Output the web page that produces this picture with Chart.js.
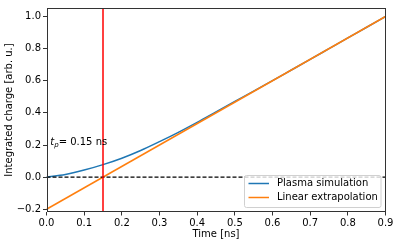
<!DOCTYPE html>
<html>
<head>
<meta charset="utf-8">
<script src="https://cdn.jsdelivr.net/npm/chart.js@4.4.1/dist/chart.umd.min.js"></script>
<style>
  html, body { margin: 0; padding: 0; background: #fff; }
  canvas { display: block; }
</style>
</head>
<body>
<canvas id="chart" width="399" height="245"></canvas>
<script>
// Plasma simulation curve
const timeNs = [0, 0.05, 0.1, 0.15, 0.2, 0.25, 0.3, 0.35, 0.4, 0.45, 0.5, 0.55, 0.6, 0.65, 0.7, 0.75, 0.8, 0.85, 0.9];
const plasmaCharge = [0, 0.016, 0.044, 0.078, 0.118, 0.166, 0.221, 0.279, 0.341, 0.406, 0.471, 0.536, 0.601, 0.667, 0.733, 0.8, 0.867, 0.933, 1.0];

// Linear extrapolation
const extrapTime = [0, 0.9];
const extrapCharge = [-0.2, 1.0];

const tp = 0.15;
const xLimits = [0, 0.9];
const yLimits = [-0.217, 1.053];
const xTicks = [0, 0.1, 0.2, 0.3, 0.4, 0.5, 0.6, 0.7, 0.8, 0.9];
const yTicks = [-0.2, 0, 0.2, 0.4, 0.6, 0.8, 1.0];

const seriesNames = ["Plasma simulation", "Linear extrapolation"];
const blue = "#1f77b4";
const orange = "#ff7f0e";
const FONT = "'DejaVu Sans', sans-serif";
const FS = 10;

Chart.defaults.font.family = FONT;
Chart.defaults.font.size = FS;
Chart.defaults.color = "#000";

const toPoints = (xs, ys) => xs.map((x, i) => ({ x: x, y: ys[i] }));

// frame, annotation and legend drawn on top
const extras = {
    id: "extras",
    afterDraw(chart) {
        const ctx = chart.ctx;
        const a = chart.chartArea;
        const xs = chart.scales.x, ys = chart.scales.y;
        ctx.save();

        // spines
        ctx.strokeStyle = "#333";
        ctx.lineWidth = 1;
        ctx.strokeRect(Math.round(a.left) + 0.5, Math.round(a.top) + 0.5,
            Math.round(a.right - a.left) - 1, Math.round(a.bottom - a.top) - 1);

        // t_p annotation
        let tx = xs.getPixelForValue(0.01);
        const ty = ys.getPixelForValue(0.2);
        ctx.fillStyle = "#000";
        ctx.textBaseline = "alphabetic";
        ctx.textAlign = "left";
        ctx.font = "oblique " + FS + "px " + FONT;
        ctx.fillText("t", tx, ty);
        tx += ctx.measureText("t").width;
        ctx.font = "oblique 7px " + FONT;
        ctx.fillText("p", tx, ty + 2);
        tx += ctx.measureText("p").width;
        ctx.font = FS + "px " + FONT;
        ctx.fillText("= " + tp.toFixed(2) + " ns", tx, ty);

        // legend, lower right
        const w = 136.5, h = 32;
        const lx = a.right - 4.5 - w, ly = a.bottom - 4.5 - h;
        ctx.beginPath();
        ctx.roundRect(lx, ly, w, h, 2);
        ctx.fillStyle = "rgba(255,255,255,0.8)";
        ctx.fill();
        ctx.strokeStyle = "#d0d0d0";
        ctx.lineWidth = 1;
        ctx.stroke();
        const cols = [blue, orange];
        ctx.font = FS + "px " + FONT;
        ctx.textBaseline = "middle";
        seriesNames.forEach((name, i) => {
            const yy = ly + 8 + i * 14;
            ctx.strokeStyle = cols[i];
            ctx.lineWidth = 1.5;
            ctx.beginPath();
            ctx.moveTo(lx + 4, yy);
            ctx.lineTo(lx + 24.5, yy);
            ctx.stroke();
            ctx.fillStyle = "#000";
            ctx.fillText(name, lx + 32.5, yy);
        });
        ctx.restore();
    }
};

new Chart(document.getElementById("chart"), {
    type: "line",
    data: {
        datasets: [
            {
                label: "tp",
                data: toPoints([tp, tp], yLimits),
                borderColor: "#ff0000",
                borderWidth: 1.5,
                pointRadius: 0,
                order: 0
            },
            {
                label: "zero",
                data: toPoints(xLimits, [0, 0]),
                borderColor: "#000",
                borderWidth: 1.3,
                borderDash: [4, 2],
                pointRadius: 0,
                order: 1
            },
            {
                label: seriesNames[1],
                data: toPoints(extrapTime, extrapCharge),
                borderColor: orange,
                borderWidth: 1.5,
                pointRadius: 0,
                order: 2
            },
            {
                label: seriesNames[0],
                data: toPoints(timeNs, plasmaCharge),
                borderColor: blue,
                borderWidth: 1.5,
                pointRadius: 0,
                cubicInterpolationMode: "monotone",
                order: 3
            }
        ]
    },
    options: {
        responsive: false,
        animation: false,
        layout: { padding: { left: 0, right: 13.5, top: 4.5, bottom: 0 } },
        plugins: { legend: { display: false }, tooltip: { enabled: false } },
        scales: {
            x: {
                type: "linear",
                min: xLimits[0],
                max: xLimits[1],
                afterBuildTicks: s => { s.ticks = xTicks.map(v => ({ value: v })); },
                afterFit: s => { s.height = 33; },
                ticks: {
                    callback: v => v.toFixed(1),
                    padding: 1.5,
                    maxRotation: 0
                },
                grid: { drawOnChartArea: false, drawTicks: true, tickLength: 3.5, color: "#333" },
                border: { display: false },
                title: { display: true, text: "Time [ns]", padding: { top: 0, bottom: 5 } }
            },
            y: {
                type: "linear",
                min: yLimits[0],
                max: yLimits[1],
                afterBuildTicks: s => { s.ticks = yTicks.map(v => ({ value: v })); },
                afterFit: s => { s.width = 46.5; },
                ticks: {
                    callback: v => v.toFixed(1).replace("-", "\u2212"),
                    padding: 2
                },
                grid: { drawOnChartArea: false, drawTicks: true, tickLength: 3.5, color: "#333" },
                border: { display: false },
                title: { display: true, text: "Integrated charge [arb. u.]", padding: { top: 3, bottom: 0 } }
            }
        }
    },
    plugins: [extras]
});
</script>
</body>
</html>
